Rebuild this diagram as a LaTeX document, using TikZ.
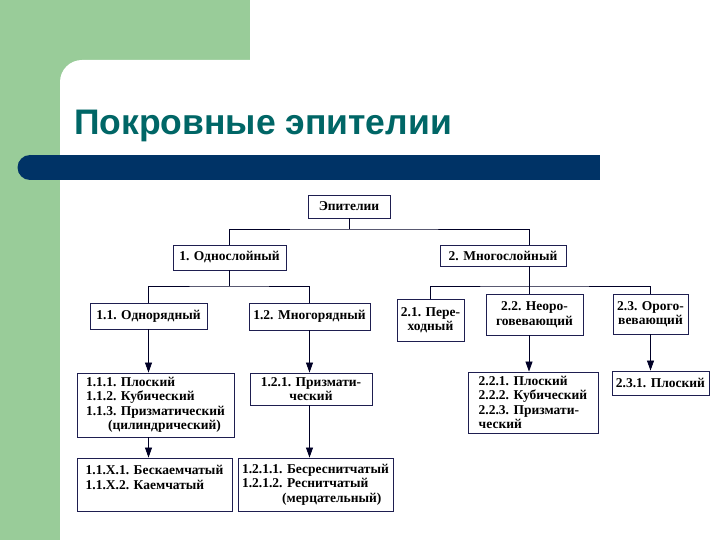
\documentclass[tikz,border=0pt]{standalone}
\usepackage{fontspec}
\setmainfont{Liberation Serif}
\newfontfamily\headfont{Liberation Sans}
\usetikzlibrary{arrows.meta}
\definecolor{slidegreen}{RGB}{153,204,153}
\definecolor{barblue}{RGB}{0,51,102}
\definecolor{headteal}{RGB}{0,102,102}
\definecolor{boxline}{RGB}{30,30,80}

\begin{document}
\begin{tikzpicture}[x=1pt, y=-1pt]
    \tikzset{
      box/.style={draw=boxline, line width=0.9pt, fill=white, inner sep=2pt,
        font=\fontsize{13.5}{14.5}\selectfont\bfseries},
      link/.style={draw=black!85!blue, line width=0.8pt},
      arr/.style={link, -{Triangle[width=7pt,length=10pt]}},
    }
    \useasboundingbox (0,0) rectangle (720,540);
    % ===== slide background =====
    \fill[slidegreen] (0,0) rectangle (250,100);
    \fill[slidegreen] (0,0) rectangle (60,540);
    \fill[white, rounded corners=22pt] (60,580) -- (60,60) -- (760,60) -- (760,580) -- cycle;
    \fill[barblue] (30,155) rectangle (600,180);
    \fill[barblue] (30,167.5) circle[radius=12.5pt];
    \node[anchor=base west, inner sep=0pt, text=headteal,
      font=\headfont\bfseries\fontsize{35.5}{38}\selectfont] (title) at (74,135) {Покровные эпителии};
    % ===== level 0 and 1 =====
    \node[box, minimum width=82, minimum height=23] (ep) at (349,206.5) {Эпителии};
    \node[box, minimum width=113, minimum height=25] (one) at (229.5,257.5) {1. Однослойный};
    \node[box, minimum width=126, minimum height=21] (many) at (503,255.5) {2. Многослойный};
    % ===== level 2 =====
    \node[box, minimum width=117, minimum height=26] (s11) at (148.5,316) {1.1. Однорядный};
    \node[box, minimum width=121, minimum height=27] (s12) at (309.5,316.5) {1.2. Многорядный};
    \node[box, minimum width=67, minimum height=42, align=center] (s21) at (430.5,320) {2.1. Пере-\\ходный};
    \node[box, minimum width=97, minimum height=41, align=center] (s22) at (534.5,314.5) {2.2. Неоро-\\говевающий};
    \node[box, minimum width=75, minimum height=40, align=center] (s23) at (650.5,314) {2.3. Орого-\\вевающий};
    % ===== level 3 =====
    \node[box, minimum width=157, minimum height=64, align=left] (s111) at (155.5,405)
      {1.1.1. Плоский\\1.1.2. Кубический\\1.1.3. Призматический\\\hspace*{22pt}(цилиндрический)};
    \node[box, minimum width=122, minimum height=32, align=center] (s121) at (311,389) {1.2.1. Призмати-\\ческий};
    \node[box, minimum width=130, minimum height=61, align=left] (s221) at (533,402.5)
      {2.2.1. Плоский\\2.2.2. Кубический\\2.2.3. Призмати-\\ческий};
    \node[box, minimum width=97, minimum height=24] (s231) at (660.5,383) {2.3.1. Плоский};
    % ===== level 4 =====
    \node[box, minimum width=155, minimum height=53, align=left] (s1x) at (154.5,484.5)
      {1.1.X.1. Бескаемчатый\\1.1.X.2. Каемчатый\\\mbox{}};
    \node[box, minimum width=155, minimum height=53, align=left] (s1211) at (315.5,484.5)
      {1.2.1.1. Бесреснитчатый\\1.2.1.2. Реснитчатый\\\hspace*{40pt}(мерцательный)};
    % ===== connectors =====
    \coordinate (j0) at (349,229);
    \coordinate (j1) at (229.5,286);
    \coordinate (j2) at (529,286);
    \draw[link] (ep.south) -- (j0);
    \draw[link] (one.north) |- (j0) -- (j0 -| j2) -- (j2 |- many.north);
    \draw[link] (one.south) -- (j1);
    \draw[link] (s11.north) |- (j1) -| (s12.north);
    \draw[link] (j2 |- many.south) -- (j2);
    \draw[link] (s21.north) |- (j2) -| (s23.north);
    \draw[link] (j2) -- (j2 |- s22.north);
    \foreach \up/\down in {s11/s111, s12/s121, s23/s231}
      \draw[arr] (\up.south) -- (\up.south |- \down.north);
    \draw[arr] (j2 |- s22.south) -- (j2 |- s221.north);
    \draw[arr] (s11.south |- s111.south) -- (s11.south |- s1x.north);
    \draw[arr] (s12.south |- s121.south) -- (s12.south |- s1211.north);
\end{tikzpicture}
\end{document}
